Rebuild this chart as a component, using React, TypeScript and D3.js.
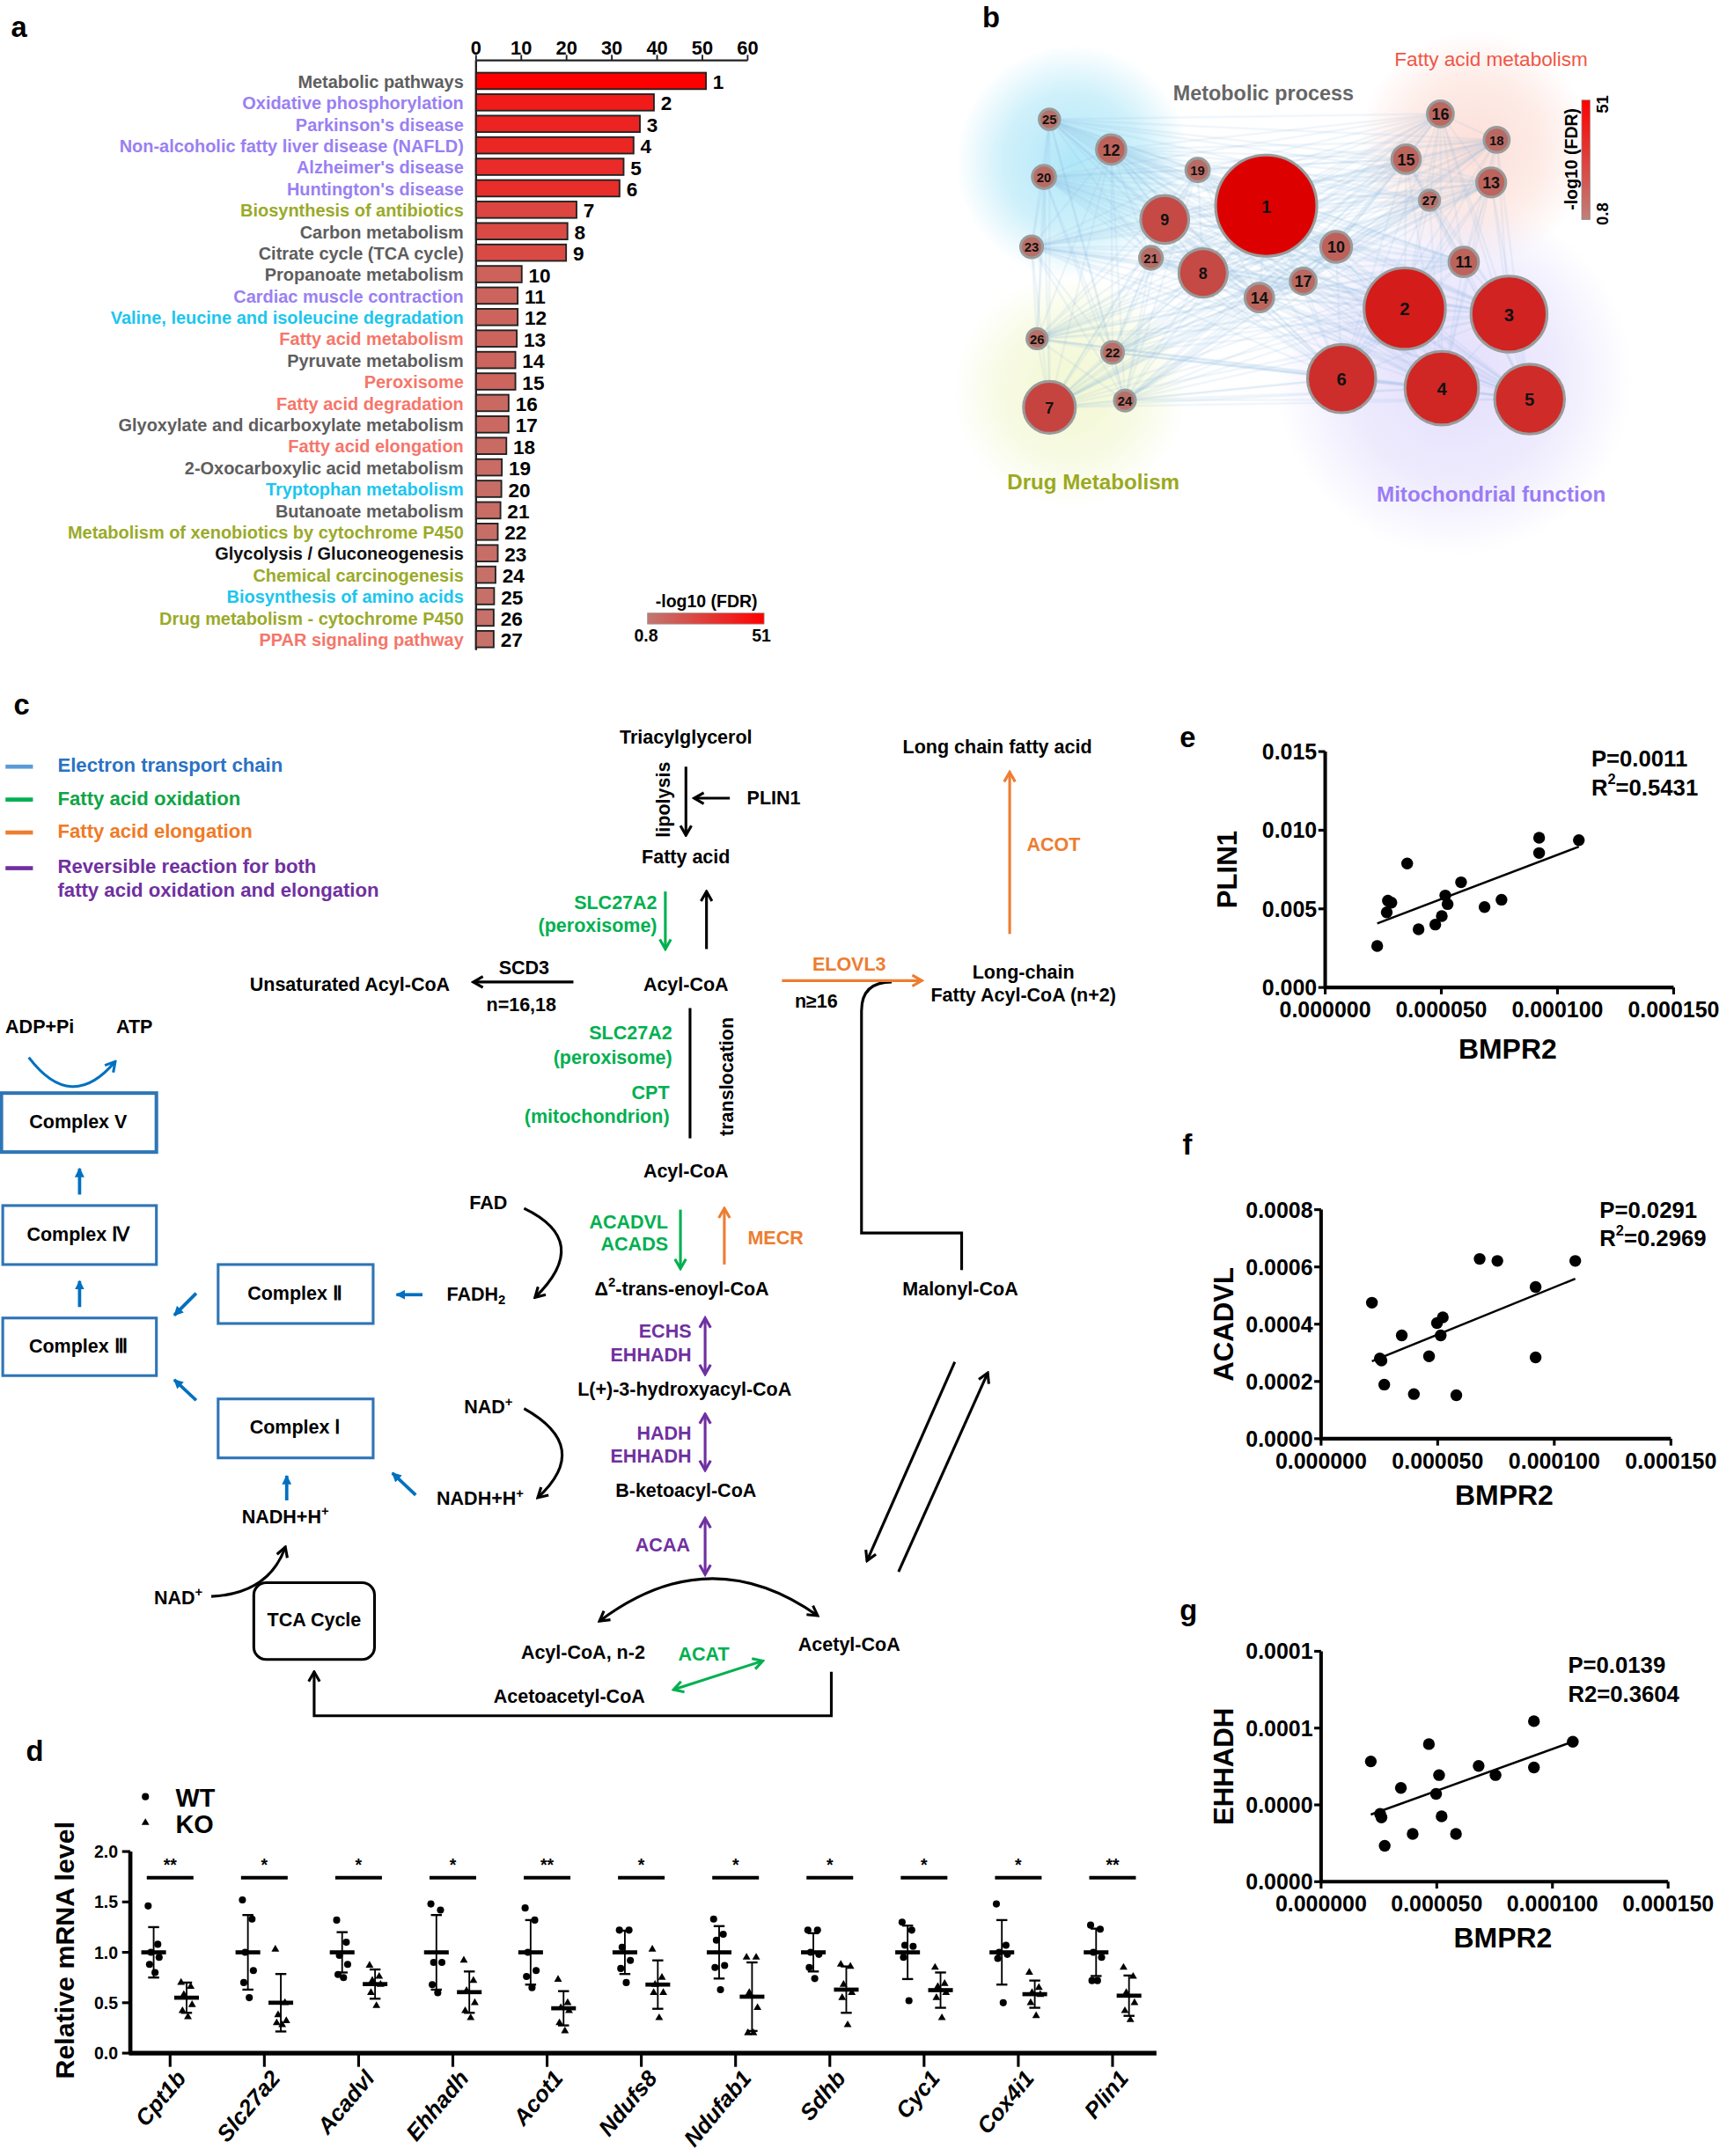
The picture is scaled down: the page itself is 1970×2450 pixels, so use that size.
import React from "react";
import * as d3 from "d3";

// ---------------- DATA ----------------
const pathwayNames = [
  "Metabolic pathways", "Oxidative phosphorylation", "Parkinson's disease",
  "Non-alcoholic fatty liver disease (NAFLD)", "Alzheimer's disease", "Huntington's disease",
  "Biosynthesis of antibiotics", "Carbon metabolism", "Citrate cycle (TCA cycle)",
  "Propanoate metabolism", "Cardiac muscle contraction", "Valine, leucine and isoleucine degradation",
  "Fatty acid metabolism", "Pyruvate metabolism", "Peroxisome", "Fatty acid degradation",
  "Glyoxylate and dicarboxylate metabolism", "Fatty acid elongation", "2-Oxocarboxylic acid metabolism",
  "Tryptophan metabolism", "Butanoate metabolism", "Metabolism of xenobiotics by cytochrome P450",
  "Glycolysis / Gluconeogenesis", "Chemical carcinogenesis", "Biosynthesis of amino acids",
  "Drug metabolism - cytochrome P450", "PPAR signaling pathway",
];
const pathwayGroups = [
  "meta", "mito", "mito", "mito", "mito", "mito", "drug", "meta", "meta", "meta", "mito", "amino",
  "fatty", "meta", "fatty", "fatty", "meta", "fatty", "meta", "amino", "meta", "drug", "black",
  "drug", "amino", "drug", "fatty",
];
const enrichment = [
  50.8, 39.3, 36.2, 34.8, 32.6, 31.7, 22.2, 20.2, 19.9, 10.1, 9.2, 9.2, 9.0, 8.7, 8.7, 7.2, 7.2,
  6.7, 5.7, 5.6, 5.4, 4.8, 4.8, 4.3, 4.0, 3.9, 3.9,
];
const axisTicksA = [0, 10, 20, 30, 40, 50, 60];

// network layout (node order = pathway order)
const networkLayout: [number, number][] = [
  [923, 150], [1024, 225], [1100, 229], [1051, 283], [1115, 291], [978, 276], [765, 297],
  [877, 199], [849, 160], [974, 180], [1067, 191], [810, 109], [1087, 133], [918, 217],
  [1025, 116], [1050, 83], [950, 205], [1091, 102], [873, 124], [761, 129], [839, 188],
  [811, 257], [752, 180], [820, 292], [765, 87], [756, 247], [1042, 146],
];

// panel d
const genes = ["Cpt1b", "Slc27a2", "Acadvl", "Ehhadh", "Acot1", "Ndufs8", "Ndufab1", "Sdhb", "Cyc1", "Cox4i1", "Plin1"];
const significance = ["**", "*", "*", "*", "**", "*", "*", "*", "*", "*", "**"];
const wtPoints = [
  [1.46, 1.08, 1.0, 0.95, 0.88, 0.8],
  [1.52, 1.33, 1.0, 0.82, 0.7, 0.55],
  [1.32, 1.1, 0.97, 0.88, 0.78, 0.75],
  [1.48, 1.42, 0.9, 0.9, 0.68, 0.6],
  [1.44, 1.32, 1.0, 0.82, 0.76, 0.65],
  [1.22, 1.22, 1.05, 0.92, 0.84, 0.7],
  [1.33, 1.18, 1.12, 0.87, 0.85, 0.63],
  [1.22, 1.22, 1.0, 0.98, 0.85, 0.74],
  [1.3, 1.22, 1.07, 1.06, 0.95, 0.52],
  [1.48, 1.07, 1.0, 0.98, 0.94, 0.5],
  [1.27, 1.23, 1.0, 0.95, 0.72, 0.72],
];
const koPoints = [
  [0.7, 0.66, 0.58, 0.48, 0.42, 0.36],
  [1.03, 0.5, 0.38, 0.32, 0.3, 0.28],
  [0.87, 0.76, 0.72, 0.68, 0.6, 0.47],
  [0.92, 0.72, 0.62, 0.5, 0.42, 0.35],
  [0.73, 0.5, 0.45, 0.42, 0.3, 0.22],
  [1.03, 0.75, 0.68, 0.6, 0.6, 0.35],
  [0.95, 0.95, 0.6, 0.45, 0.2, 0.2],
  [0.88, 0.86, 0.68, 0.6, 0.55, 0.28],
  [0.85, 0.69, 0.66, 0.6, 0.55, 0.35],
  [0.8, 0.65, 0.6, 0.58, 0.5, 0.37],
  [0.85, 0.76, 0.6, 0.5, 0.42, 0.33],
];
const wtMean = [1, 1, 1, 1, 1, 1, 1, 1, 1, 1, 1];
const wtSD = [0.25, 0.37, 0.2, 0.37, 0.32, 0.215, 0.26, 0.19, 0.265, 0.32, 0.235];
const koMean = [0.55, 0.5, 0.685, 0.605, 0.445, 0.68, 0.56, 0.63, 0.625, 0.585, 0.57];
const koSD = [0.15, 0.285, 0.145, 0.205, 0.17, 0.24, 0.34, 0.23, 0.175, 0.135, 0.2];
const yTicksD = [0, 0.5, 1.0, 1.5, 2.0];

// panels e, f, g
const bmpr2E = [0.0000224, 0.0000265, 0.000027, 0.0000285, 0.0000353, 0.0000402, 0.0000474, 0.0000502, 0.0000517, 0.0000527, 0.0000585, 0.0000686, 0.0000759, 0.0000921, 0.0000921, 0.0001092];
const plin1 = [0.00264, 0.00478, 0.00552, 0.00539, 0.00788, 0.0037, 0.004, 0.00454, 0.00585, 0.0053, 0.00669, 0.00511, 0.00558, 0.00952, 0.00855, 0.00937];
const bmpr2F = [0.0000218, 0.0000252, 0.0000259, 0.0000271, 0.0000346, 0.0000398, 0.0000463, 0.0000497, 0.0000522, 0.0000513, 0.000058, 0.000068, 0.0000756, 0.000092, 0.000092, 0.000109];
const acadvl = [0.000475, 0.00028, 0.000273, 0.000189, 0.000361, 0.000156, 0.000288, 0.000404, 0.000424, 0.000361, 0.000152, 0.000628, 0.000621, 0.00053, 0.000284, 0.000621];
const bmpr2G = [0.0000215, 0.0000255, 0.0000261, 0.0000275, 0.0000345, 0.0000396, 0.0000466, 0.0000497, 0.000051, 0.0000521, 0.0000583, 0.0000681, 0.0000754, 0.000092, 0.000092, 0.0001088];
const ehhadh = [0.0000783, 0.0000441, 0.0000418, 0.0000234, 0.000061, 0.0000311, 0.0000896, 0.0000572, 0.0000694, 0.0000426, 0.0000311, 0.0000754, 0.0000694, 0.0001045, 0.0000744, 0.0000911];
const xTicksBMPR2 = [0, 0.00005, 0.0001, 0.00015];
const xTickLabelsBMPR2 = ["0.000000", "0.000050", "0.000100", "0.000150"];
const yTicksE = [0, 0.005, 0.01, 0.015];
const yTickLabelsE = ["0.000", "0.005", "0.010", "0.015"];
const yTicksF = [0, 0.0002, 0.0004, 0.0006, 0.0008];
const yTickLabelsF = ["0.0000", "0.0002", "0.0004", "0.0006", "0.0008"];
const yTicksG = [0, 0.00005, 0.0001, 0.00015];
const yTickLabelsG = ["0.0000", "0.0000", "0.0001", "0.0001"];

// ---------------- STYLE ----------------
const FONT = "Liberation Sans, Arial, Helvetica, sans-serif";
const groupColor: Record<string, string> = {
  meta: "#5e5e5e", mito: "#9a80f2", drug: "#9aaa2a", amino: "#1cc6ee", fatty: "#f5766a", black: "#111111",
};
const C = { black: "#000000", green: "#00b050", orange: "#ed7d31", purple: "#7030a0", blue: "#0070c0" };
const FS_C = 13.8;

// ---------------- PANEL A ----------------
function PanelA() {
  const x = d3.scaleLinear().domain([0, 60]).range([347, 545]);
  const y = d3.scalePoint<number>().domain(d3.range(27)).range([59, 466]);
  const color = d3.scaleLinear<string>().domain([0.8, 51]).range(["#c27870", "#ff0000"]);
  return (
    <g fontFamily={FONT}>
      <defs>
        <linearGradient id="gradA" x1="0" x2="1" y1="0" y2="0">
          <stop offset="0" stopColor={color(0.8)} />
          <stop offset="1" stopColor={color(51)} />
        </linearGradient>
      </defs>
      <line x1={x(0)} x2={x(60)} y1={44} y2={44} stroke="#222" strokeWidth={1.5} />
      <line x1={x(0)} x2={x(0)} y1={44} y2={474} stroke="#222" strokeWidth={1.5} />
      {axisTicksA.map((t) => (
        <g key={t}>
          <line x1={x(t)} x2={x(t)} y1={44} y2={40} stroke="#222" strokeWidth={1.2} />
          <text x={x(t)} y={35} textAnchor="middle" dominantBaseline="central" fontSize={14} fontWeight="bold">{t}</text>
        </g>
      ))}
      {enrichment.map((v, i) => (
        <g key={i}>
          <rect x={x(0)} y={y(i)! - 6} width={x(v) - x(0)} height={12} fill={color(v)} stroke="#222" strokeWidth={1.2} />
          <text x={x(v) + 5} y={y(i)! + 1} dominantBaseline="central" fontSize={14.5} fontWeight="bold">{i + 1}</text>
          <text x={338} y={y(i)! + 0.5} textAnchor="end" dominantBaseline="central" fontSize={12.8} fontWeight="bold"
            fill={groupColor[pathwayGroups[i]]}>{pathwayNames[i]}</text>
        </g>
      ))}
      <text x={515} y={438} textAnchor="middle" dominantBaseline="central" fontSize={12.5} fontWeight="bold">-log10 (FDR)</text>
      <rect x={472} y={447} width={85} height={8} fill="url(#gradA)" stroke="#999" strokeWidth={0.5} />
      <text x={471} y={463} textAnchor="middle" dominantBaseline="central" fontSize={12.5} fontWeight="bold">0.8</text>
      <text x={555} y={463} textAnchor="middle" dominantBaseline="central" fontSize={12.5} fontWeight="bold">51</text>
    </g>
  );
}

// ---------------- PANEL B ----------------
function PanelB() {
  const rScale = d3.scaleLinear().domain([0, 51]).range([5, 37]);
  const nodeColor = d3.scaleLinear<string>().domain([3.9, 51]).range(["#b87068", "#dd0000"]);
  const edges: [number, number][] = [];
  for (let i = 0; i < networkLayout.length; i++)
    for (let j = i + 1; j < networkLayout.length; j++) edges.push([i, j]);
  const glows = [
    { cx: 782, cy: 118, r: 85, c: "#6fd3f2", o: 0.55 },
    { cx: 1075, cy: 108, r: 85, c: "#f9b8a8", o: 0.45 },
    { cx: 780, cy: 285, r: 85, c: "#e6f0a4", o: 0.5 },
    { cx: 1060, cy: 275, r: 130, c: "#cdc3fa", o: 0.55 },
  ];
  const colorbar = d3.scaleLinear<string>().domain([0.8, 51]).range(["#c08078", "#ff0000"]);
  return (
    <g fontFamily={FONT}>
      <defs>
        {glows.map((g, i) => (
          <radialGradient key={i} id={"glow" + i}>
            <stop offset="0" stopColor={g.c} stopOpacity={g.o} />
            <stop offset="0.6" stopColor={g.c} stopOpacity={g.o * 0.6} />
            <stop offset="1" stopColor={g.c} stopOpacity={0} />
          </radialGradient>
        ))}
        <linearGradient id="gradB" x1="0" x2="0" y1="1" y2="0">
          <stop offset="0" stopColor={colorbar(0.8)} />
          <stop offset="1" stopColor={colorbar(51)} />
        </linearGradient>
      </defs>
      {glows.map((g, i) => (
        <circle key={i} cx={g.cx} cy={g.cy} r={g.r} fill={`url(#glow${i})`} />
      ))}
      {edges.map(([a, b], k) => (
        <line key={k} x1={networkLayout[a][0]} y1={networkLayout[a][1]} x2={networkLayout[b][0]} y2={networkLayout[b][1]}
          stroke="#8cb6df" strokeOpacity={0.13} strokeWidth={1.6} />
      ))}
      {networkLayout.map(([cx, cy], i) => {
        const r = rScale(enrichment[i]);
        return (
          <g key={i}>
            <circle cx={cx} cy={cy} r={r} fill={nodeColor(enrichment[i])} stroke="#9a9a9a" strokeWidth={2} />
            <text x={cx} y={cy + 0.5} textAnchor="middle" dominantBaseline="central" fontWeight="bold"
              fontSize={r > 20 ? 13 : r > 9.5 ? 11.5 : 9.5} fill="#111">{i + 1}</text>
          </g>
        );
      })}
      <text x={921} y={68} textAnchor="middle" dominantBaseline="central" fontSize={15} fontWeight="bold" fill="#666">Metobolic process</text>
      <text x={1087} y={43} textAnchor="middle" dominantBaseline="central" fontSize={14.5} fill="#f05545">Fatty acid metabolism</text>
      <text x={797} y={351} textAnchor="middle" dominantBaseline="central" fontSize={15.5} fontWeight="bold" fill="#9aaa1e">Drug Metabolism</text>
      <text x={1087} y={360} textAnchor="middle" dominantBaseline="central" fontSize={15.5} fontWeight="bold" fill="#9a7cf5">Mitochondrial function</text>
      <rect x={1153} y={73} width={6} height={87} fill="url(#gradB)" stroke="#888" strokeWidth={0.5} />
      <text transform="translate(1145,116) rotate(-90)" textAnchor="middle" dominantBaseline="central" fontSize={12.5} fontWeight="bold">-log10 (FDR)</text>
      <text transform="translate(1168,76) rotate(-90)" textAnchor="middle" dominantBaseline="central" fontSize={12} fontWeight="bold">51</text>
      <text transform="translate(1168,156) rotate(-90)" textAnchor="middle" dominantBaseline="central" fontSize={12} fontWeight="bold">0.8</text>
    </g>
  );
}

// ---------------- PANEL C ----------------
type Lbl = { t: string; x: number; y: number; c?: string; a?: "start" | "middle" | "end"; rot?: boolean };
const pathwayLabels: Lbl[] = [
  { t: "Triacylglycerol", x: 500, y: 538 },
  { t: "PLIN1", x: 564, y: 582 },
  { t: "Fatty acid", x: 500, y: 625 },
  { t: "Acyl-CoA", x: 500, y: 718 },
  { t: "Unsaturated Acyl-CoA", x: 255, y: 718 },
  { t: "SCD3", x: 382, y: 706 },
  { t: "n=16,18", x: 380, y: 733 },
  { t: "Acyl-CoA", x: 500, y: 854 },
  { t: "L(+)-3-hydroxyacyl-CoA", x: 499, y: 1013 },
  { t: "B-ketoacyl-CoA", x: 500, y: 1087 },
  { t: "Acyl-CoA, n-2", x: 425, y: 1205 },
  { t: "Acetoacetyl-CoA", x: 415, y: 1237 },
  { t: "Acetyl-CoA", x: 619, y: 1199 },
  { t: "Malonyl-CoA", x: 700, y: 940 },
  { t: "Long chain fatty acid", x: 727, y: 545 },
  { t: "Long-chain", x: 746, y: 709 },
  { t: "Fatty Acyl-CoA (n+2)", x: 746, y: 726 },
  { t: "n≥16", x: 595, y: 730 },
  { t: "ADP+Pi", x: 29, y: 749 },
  { t: "ATP", x: 98, y: 749 },
  { t: "FAD", x: 356, y: 877 },
  { t: "TCA Cycle", x: 229, y: 1181 },
  { t: "Complex V", x: 57, y: 818 },
  { t: "Complex Ⅳ", x: 57, y: 900 },
  { t: "Complex Ⅲ", x: 57, y: 982 },
  { t: "Complex Ⅱ", x: 215, y: 943 },
  { t: "Complex  Ⅰ", x: 215, y: 1041 },
  { t: "lipolysis", x: 484, y: 583, rot: true },
  { t: "translocation", x: 530, y: 785, rot: true },
  { t: "SLC27A2", x: 479, y: 658, c: C.green, a: "end" },
  { t: "(peroxisome)", x: 479, y: 675, c: C.green, a: "end" },
  { t: "SLC27A2", x: 490, y: 753, c: C.green, a: "end" },
  { t: "(peroxisome)", x: 490, y: 771, c: C.green, a: "end" },
  { t: "CPT", x: 488, y: 797, c: C.green, a: "end" },
  { t: "(mitochondrion)", x: 488, y: 814, c: C.green, a: "end" },
  { t: "ACADVL", x: 487, y: 891, c: C.green, a: "end" },
  { t: "ACADS", x: 487, y: 907, c: C.green, a: "end" },
  { t: "ACAT", x: 513, y: 1206, c: C.green },
  { t: "ELOVL3", x: 619, y: 703, c: C.orange },
  { t: "ACOT", x: 768, y: 616, c: C.orange },
  { t: "MECR", x: 545, y: 903, c: C.orange, a: "start" },
  { t: "ECHS", x: 504, y: 971, c: C.purple, a: "end" },
  { t: "EHHADH", x: 504, y: 988, c: C.purple, a: "end" },
  { t: "HADH", x: 504, y: 1045, c: C.purple, a: "end" },
  { t: "EHHADH", x: 504, y: 1062, c: C.purple, a: "end" },
  { t: "ACAA", x: 503, y: 1127, c: C.purple, a: "end" },
];
type Arr = { d: string; c: keyof typeof C; both?: boolean; none?: boolean };
const pathwayArrows: Arr[] = [
  { d: "M500,559 L500,609", c: "black" },
  { d: "M532,582 L506,582", c: "black" },
  { d: "M515,692 L515,650", c: "black" },
  { d: "M418,716 L345,716", c: "black" },
  { d: "M503,735 L503,830", c: "black", none: true },
  { d: "M701,926 L701,899 L628,899 L628,737 Q628,716 650,716", c: "black", none: true },
  { d: "M437,1182 Q517,1122 596,1178", c: "black", both: true },
  { d: "M696,993 L632,1138", c: "black" },
  { d: "M655,1146 L720,1001", c: "black" },
  { d: "M606,1219 L606,1251 L229,1251 L229,1219", c: "black" },
  { d: "M382,881 Q432,905 390,946", c: "black" },
  { d: "M382,1027 Q432,1055 392,1092", c: "black" },
  { d: "M154,1164 Q196,1162 208,1128", c: "black" },
  { d: "M485,650 L485,692", c: "green" },
  { d: "M496,882 L496,925", c: "green" },
  { d: "M491,1232 L556,1211", c: "green", both: true },
  { d: "M570,715 L672,715", c: "orange" },
  { d: "M736,681 L736,563", c: "orange" },
  { d: "M528,922 L528,881", c: "orange" },
  { d: "M514,961 L514,1002", c: "purple", both: true },
  { d: "M514,1031 L514,1072", c: "purple", both: true },
  { d: "M514,1107 L514,1148", c: "purple", both: true },
  { d: "M21,771 Q52,812 84,774", c: "blue" },
];
const blueShort = [
  "M58,871 L58,852", "M58,953 L58,934", "M143,943 L127,959", "M143,1021 L127,1006",
  "M308,944 L289,944", "M303,1090 L286,1074", "M209,1094 L209,1076",
];
const boxes = [
  { x: 1, y: 797, w: 113, h: 43, sw: 2.6 }, { x: 2, y: 879, w: 112, h: 43, sw: 2 },
  { x: 2, y: 961, w: 112, h: 42, sw: 2 }, { x: 159, y: 922, w: 113, h: 43, sw: 2 },
  { x: 159, y: 1020, w: 113, h: 43, sw: 2 },
];
const legendC = [
  { t: "Electron transport chain", c: "#2a72c4", line: "#5b9bd5", y: 558 },
  { t: "Fatty acid oxidation", c: "#10a545", line: "#00b050", y: 582 },
  { t: "Fatty acid elongation", c: "#f07a26", line: "#ed7d31", y: 606 },
  { t: "Reversible reaction for both", c: C.purple, line: C.purple, y: 632 },
];

function PanelC() {
  return (
    <g fontFamily={FONT} fontWeight="bold">
      <defs>
        {Object.entries(C).map(([k, c]) => (
          <marker key={k} id={"ar-" + k} viewBox="0 0 10 10" refX="8.5" refY="5" markerWidth="10" markerHeight="10"
            markerUnits="userSpaceOnUse" orient="auto-start-reverse">
            <path d="M1.5,1 L8.5,5 L1.5,9" fill="none" stroke={c} strokeWidth="2" strokeLinejoin="miter" />
          </marker>
        ))}
        <marker id="ar-bluefill" viewBox="0 0 10 10" refX="9" refY="5" markerWidth="7" markerHeight="7"
          markerUnits="userSpaceOnUse" orient="auto">
          <path d="M0,0 L10,5 L0,10 z" fill={C.blue} />
        </marker>
      </defs>
      {legendC.map((l, i) => (
        <g key={i}>
          <line x1={4} x2={24} y1={l.y + 1} y2={l.y + 1} stroke={l.line} strokeWidth={3} />
          <text x={42} y={l.y} dominantBaseline="central" fontSize={14.2} fill={l.c}>{l.t}</text>
        </g>
      ))}
      <text x={42} y={649} dominantBaseline="central" fontSize={14.2} fill={C.purple}>fatty acid oxidation and elongation</text>
      {boxes.map((b, i) => (
        <rect key={i} x={b.x} y={b.y} width={b.w} height={b.h} fill="none" stroke="#2e75b6" strokeWidth={b.sw} />
      ))}
      <rect x={185} y={1154} width={88} height={56} rx={9} fill="none" stroke="#000" strokeWidth={2} />
      {pathwayArrows.map((a, i) => (
        <path key={i} d={a.d} fill="none" stroke={C[a.c]} strokeWidth={2}
          markerEnd={a.none ? undefined : `url(#ar-${a.c})`} markerStart={a.both ? `url(#ar-${a.c})` : undefined} />
      ))}
      {blueShort.map((d, i) => (
        <path key={i} d={d} stroke={C.blue} strokeWidth={2.4} markerEnd="url(#ar-bluefill)" />
      ))}
      {pathwayLabels.map((l, i) => (
        <text key={i} x={l.x} y={l.y} textAnchor={l.a || "middle"} dominantBaseline="central" fontSize={FS_C}
          fill={l.c || "#000"} transform={l.rot ? `rotate(-90 ${l.x} ${l.y})` : undefined}>{l.t}</text>
      ))}
      <text x={497} y={940} textAnchor="middle" dominantBaseline="central" fontSize={FS_C}>
        Δ<tspan fontSize={9.5} dy={-5}>2</tspan><tspan dy={5}>-trans-enoyl-CoA</tspan>
      </text>
      <text x={347} y={944} textAnchor="middle" dominantBaseline="central" fontSize={FS_C}>
        FADH<tspan fontSize={9.5} dy={4}>2</tspan>
      </text>
      <text x={356} y={1026} textAnchor="middle" dominantBaseline="central" fontSize={FS_C}>
        NAD<tspan fontSize={9.5} dy={-4}>+</tspan>
      </text>
      <text x={350} y={1093} textAnchor="middle" dominantBaseline="central" fontSize={FS_C}>
        NADH+H<tspan fontSize={9.5} dy={-4}>+</tspan>
      </text>
      <text x={208} y={1106} textAnchor="middle" dominantBaseline="central" fontSize={FS_C}>
        NADH+H<tspan fontSize={9.5} dy={-4}>+</tspan>
      </text>
      <text x={130} y={1165} textAnchor="middle" dominantBaseline="central" fontSize={FS_C}>
        NAD<tspan fontSize={9.5} dy={-4}>+</tspan>
      </text>
    </g>
  );
}

// ---------------- PANEL D ----------------
const jitter = [-4, 3, -2, 4, -3, 1];
function PanelD() {
  const x = d3.scalePoint<string>().domain(genes).range([124, 811]);
  const y = d3.scaleLinear().domain([0, 2]).range([1497, 1350]);
  const tri = d3.symbol().type(d3.symbolTriangle).size(14)()!;
  return (
    <g fontFamily={FONT} fontWeight="bold">
      <circle cx={106} cy={1310} r={2.6} fill="#000" />
      <text x={128} y={1311} dominantBaseline="central" fontSize={18.5}>WT</text>
      <path d={tri} transform="translate(106,1329)" fill="#000" />
      <text x={128} y={1330} dominantBaseline="central" fontSize={18.5}>KO</text>
      <text transform="translate(47,1422) rotate(-90)" textAnchor="middle" dominantBaseline="central" fontSize={19.5}>Relative mRNA level</text>
      <line x1={95} x2={95} y1={y(2)} y2={y(0)} stroke="#000" strokeWidth={3} />
      <line x1={94} x2={843} y1={y(0)} y2={y(0)} stroke="#000" strokeWidth={3.5} />
      {yTicksD.map((t) => (
        <g key={t}>
          <line x1={89} x2={95} y1={y(t)} y2={y(t)} stroke="#000" strokeWidth={2} />
          <text x={86} y={y(t)} textAnchor="end" dominantBaseline="central" fontSize={12.5}>{t.toFixed(1)}</text>
        </g>
      ))}
      {genes.map((g, i) => {
        const cx = x(g)!;
        const wx = cx - 12, kx = cx + 12;
        return (
          <g key={g}>
            <line x1={cx} x2={cx} y1={y(0)} y2={y(0) + 10} stroke="#000" strokeWidth={2} />
            <text transform={`translate(${cx + 8},${y(0) + 15}) rotate(-50)`} textAnchor="end" dominantBaseline="central"
              fontSize={16.5} fontStyle="italic">{g}</text>
            <line x1={cx - 17} x2={cx + 17} y1={y(1.74)} y2={y(1.74)} stroke="#000" strokeWidth={2.5} />
            <text x={cx} y={y(1.87)} textAnchor="middle" dominantBaseline="central" fontSize={12.5}>{significance[i]}</text>
            {[{ m: wtMean[i], s: wtSD[i], px: wx }, { m: koMean[i], s: koSD[i], px: kx }].map((e, k) => (
              <g key={k}>
                <line x1={e.px} x2={e.px} y1={y(e.m + e.s)} y2={y(e.m - e.s)} stroke="#000" strokeWidth={1.2} />
                <line x1={e.px - 4} x2={e.px + 4} y1={y(e.m + e.s)} y2={y(e.m + e.s)} stroke="#000" strokeWidth={1.5} />
                <line x1={e.px - 4} x2={e.px + 4} y1={y(e.m - e.s)} y2={y(e.m - e.s)} stroke="#000" strokeWidth={1.5} />
                <line x1={e.px - 9} x2={e.px + 9} y1={y(e.m)} y2={y(e.m)} stroke="#000" strokeWidth={3} />
              </g>
            ))}
            {wtPoints[i].map((v, k) => (
              <circle key={"w" + k} cx={wx + jitter[k]} cy={y(v)} r={2.6} fill="#000" />
            ))}
            {koPoints[i].map((v, k) => (
              <path key={"k" + k} d={tri} transform={`translate(${kx + jitter[k]},${y(v)})`} fill="#000" />
            ))}
          </g>
        );
      })}
    </g>
  );
}

// ---------------- PANELS E F G ----------------
type ScatterProps = {
  xs: number[]; ys: number[]; left: number; right: number; top: number; bottom: number;
  yMax: number; yTicks: number[]; yTickLabels: string[]; yLabel: string;
  pText: string; rLabel: string; rSup: boolean; statX: number; statY: number; xLabelY: number;
};
function Scatter(p: ScatterProps) {
  const x = d3.scaleLinear().domain([0, 0.00015]).range([p.left, p.right]);
  const y = d3.scaleLinear().domain([0, p.yMax]).range([p.bottom, p.top]);
  const mx = d3.mean(p.xs)!, my = d3.mean(p.ys)!;
  const slope = d3.sum(p.xs, (v, i) => (v - mx) * (p.ys[i] - my)) / d3.sum(p.xs, (v) => (v - mx) ** 2);
  const icpt = my - slope * mx;
  const [x0, x1] = d3.extent(p.xs) as [number, number];
  return (
    <g fontFamily={FONT} fontWeight="bold">
      <line x1={p.left} x2={p.left} y1={p.top} y2={p.bottom + 1} stroke="#000" strokeWidth={2.6} />
      <line x1={p.left - 1} x2={p.right} y1={p.bottom} y2={p.bottom} stroke="#000" strokeWidth={2.6} />
      {p.yTicks.map((t, i) => (
        <g key={i}>
          <line x1={p.left - 5} x2={p.left} y1={y(t)} y2={y(t)} stroke="#000" strokeWidth={2} />
          <text x={p.left - 6} y={y(t)} textAnchor="end" dominantBaseline="central" fontSize={16}>{p.yTickLabels[i]}</text>
        </g>
      ))}
      {xTicksBMPR2.map((t, i) => (
        <g key={i}>
          <line x1={x(t)} x2={x(t)} y1={p.bottom} y2={p.bottom + 5} stroke="#000" strokeWidth={2} />
          <text x={x(t)} y={p.bottom + 16} textAnchor="middle" dominantBaseline="central" fontSize={16}>{xTickLabelsBMPR2[i]}</text>
        </g>
      ))}
      <line x1={x(x0)} x2={x(x1)} y1={y(icpt + slope * x0)} y2={y(icpt + slope * x1)} stroke="#000" strokeWidth={1.6} />
      {p.xs.map((v, i) => (
        <circle key={i} cx={x(v)} cy={y(p.ys[i])} r={4.3} fill="#000" />
      ))}
      <text transform={`translate(${p.left - 71},${(p.top + p.bottom) / 2}) rotate(-90)`} textAnchor="middle" dominantBaseline="central" fontSize={20}>{p.yLabel}</text>
      <text x={(p.left + p.right) / 2 + 6} y={p.xLabelY} textAnchor="middle" dominantBaseline="central" fontSize={20.5}>BMPR2</text>
      <text x={p.statX} y={p.statY} dominantBaseline="central" fontSize={16.5}>{p.pText}</text>
      <text x={p.statX} y={p.statY + 21} dominantBaseline="central" fontSize={16.5}>
        {p.rSup ? (<>R<tspan fontSize={10.5} dy={-6}>2</tspan><tspan dy={6}>{"=" + p.rLabel}</tspan></>) : "R2=" + p.rLabel}
      </text>
    </g>
  );
}

// ---------------- APP ----------------
export default function App() {
  const letters = [
    { t: "a", x: 8, y: 27 }, { t: "b", x: 716, y: 20 }, { t: "c", x: 10, y: 521 },
    { t: "d", x: 19, y: 1284 }, { t: "e", x: 860, y: 545 }, { t: "f", x: 862, y: 842 }, { t: "g", x: 860, y: 1181 },
  ];
  return (
    <div style={{ position: "absolute", left: 0, top: 0 }}>
      <svg width={1970} height={2450} viewBox="0 0 1264 1572" style={{ display: "block" }}>
        <rect x={0} y={0} width={1264} height={1572} fill="#fff" />
        <PanelA />
        <PanelB />
        <PanelC />
        <PanelD />
        <Scatter xs={bmpr2E} ys={plin1} left={966} right={1220} top={548} bottom={720} yMax={0.015}
          yTicks={yTicksE} yTickLabels={yTickLabelsE} yLabel="PLIN1" pText="P=0.0011" rLabel="0.5431" rSup={true}
          statX={1160} statY={553} xLabelY={765} />
        <Scatter xs={bmpr2F} ys={acadvl} left={963} right={1218} top={882} bottom={1049} yMax={0.0008}
          yTicks={yTicksF} yTickLabels={yTickLabelsF} yLabel="ACADVL" pText="P=0.0291" rLabel="0.2969" rSup={true}
          statX={1166} statY={882} xLabelY={1090} />
        <Scatter xs={bmpr2G} ys={ehhadh} left={963} right={1216} top={1204} bottom={1372} yMax={0.00015}
          yTicks={yTicksG} yTickLabels={yTickLabelsG} yLabel="EHHADH" pText="P=0.0139" rLabel="0.3604" rSup={false}
          statX={1143} statY={1214} xLabelY={1413} />
        {letters.map((l) => (
          <text key={l.t} x={l.x} y={l.y} fontFamily={FONT} fontWeight="bold" fontSize={21}>{l.t}</text>
        ))}
      </svg>
    </div>
  );
}
